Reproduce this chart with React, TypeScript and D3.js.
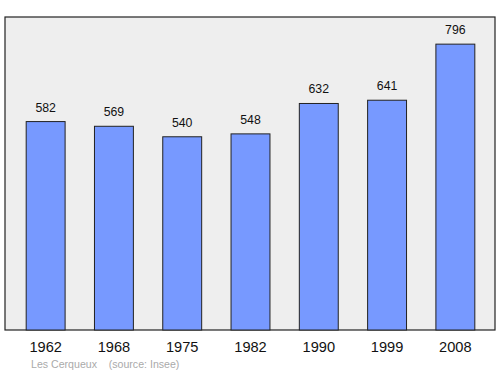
import React from "react";
import * as d3 from "d3";

const years = ["1962", "1968", "1975", "1982", "1990", "1999", "2008"];
const population = [582, 569, 540, 548, 632, 641, 796];
const place = "Les Cerqueux";
const source = "(source: Insee)";

export default function App() {
  const W = 500, H = 374;
  const left = 5, right = 495, top = 17, bottom = 330;
  const x = d3.scaleBand<string>().domain(years).range([11.5, 489.5]).paddingInner(0.43).paddingOuter(0.215);
  const y = d3.scaleLinear().domain([6, 871]).range([bottom, top]);
  const font = "'Liberation Sans', Arial, sans-serif";
  return (
    <svg width={W} height={H} style={{ position: "absolute", left: 0, top: 0 }} fontFamily={font}>
      <rect x={left} y={top} width={right - left} height={bottom - top} fill="#eeeeee" stroke="#222" strokeWidth={1.2} />
      {years.map((yr, i) => {
        const v = population[i];
        const bx = x(yr)!;
        const bw = x.bandwidth();
        return (
          <g key={yr}>
            <rect x={bx} y={y(v)} width={bw} height={bottom - y(v)} fill="#7799ff" stroke="#222" strokeWidth={1} />
            <text x={bx + bw / 2} y={y(v) - 10} textAnchor="middle" fontSize={12.3} fill="#111">{v}</text>
            <text x={bx + bw / 2} y={352} textAnchor="middle" fontSize={14.6} fill="#111">{yr}</text>
          </g>
        );
      })}
      <text x={31} y={368} fontSize={10.6} fill="#aaaaaa" xmlSpace="preserve">{place + "    " + source}</text>
    </svg>
  );
}
